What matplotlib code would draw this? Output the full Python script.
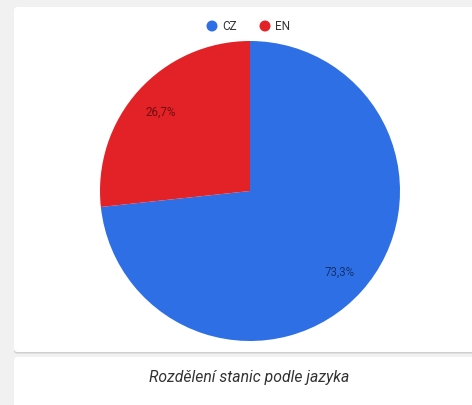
import matplotlib.pyplot as plt
from matplotlib.patches import FancyBboxPatch, Ellipse

labels = ['CZ', 'EN']
shares = [73.3, 26.7]
colors = ['#2f6fe6', '#e22227']
label_colors = ['#14336f', '#6e0d10']
title = 'Rozdělení stanic podle jazyka'

W, H = 472, 406
fig = plt.figure(figsize=(W / 100, H / 100), dpi=100)
fig.patch.set_facecolor('#f1f1f1')


def px(x, y):
    # pixel coords (top-left origin) -> figure fraction
    return x / W, 1 - y / H


# cards
for (x0, y0, x1, y1) in [(14, 8, 490, 353), (14, 358, 490, 440)]:
    fx, fy = px(x0, y1)
    shadow = FancyBboxPatch((fx, fy - 1.5 / H), (x1 - x0) / W, (y1 - y0) / H,
                            boxstyle='round,pad=0,rounding_size=0.008',
                            transform=fig.transFigure, facecolor='#cfcfcf',
                            edgecolor='none', zorder=0)
    card = FancyBboxPatch((fx, fy), (x1 - x0) / W, (y1 - y0) / H,
                          boxstyle='round,pad=0,rounding_size=0.008',
                          transform=fig.transFigure, facecolor='white',
                          edgecolor='none', zorder=0.5)
    fig.patches.extend([shadow, card])

# pie
cx, cy, r = 250, 192, 150
ax = fig.add_axes([(cx - r) / W, (H - cy - r) / H, 2 * r / W, 2 * r / H])
ax.set_zorder(2)
ax.patch.set_alpha(0)
wedges, texts, autotexts = ax.pie(
    shares, colors=colors, startangle=90, counterclock=False,
    autopct=lambda p: f'{p:.1f}%'.replace('.', ','), pctdistance=0.8,
    wedgeprops=dict(linewidth=0),
    textprops=dict(fontsize=8.3, family='Roboto'))
for t, c in zip(autotexts, label_colors):
    t.set_color(c)
ax.set_aspect('auto')
ax.set_xlim(-1, 1)
ax.set_ylim(-1, 1)
ax.axis('off')

# legend
leg_items = [(212, labels[0], colors[0]), (265, labels[1], colors[1])]
for x, lab, col in leg_items:
    fx, fy = px(x, 27)
    fig.patches.append(Ellipse((fx, fy), 11 / W, 11 / H, transform=fig.transFigure,
                               facecolor=col, edgecolor='none', zorder=3))
    fig.text(px(x + 10, 27)[0], fy, lab, fontsize=8.5, family='Roboto',
             color='#333333', va='center', ha='left', zorder=4)

# caption
fig.text(px(249, 377)[0], px(249, 377)[1], title, fontsize=11.3,
         family='Roboto', style='italic', color='#333333',
         ha='center', va='center', zorder=4)

fig.savefig('out.png', dpi=100, facecolor=fig.get_facecolor())
